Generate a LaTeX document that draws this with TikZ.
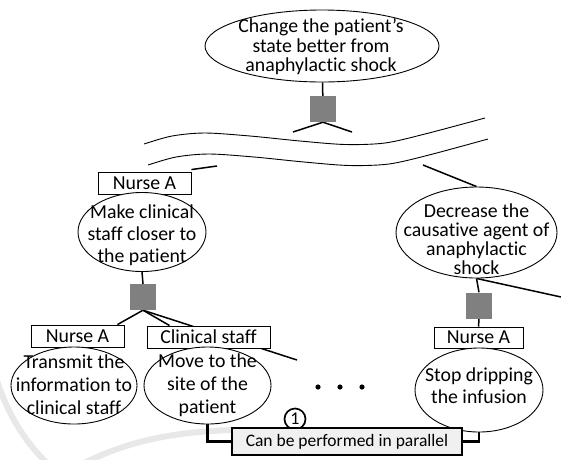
\documentclass[tikz,border=0pt]{standalone}
\usepackage{fontspec}
\setmainfont[Ligatures={TeX,NoCommon}]{Carlito}
\usetikzlibrary{shapes.geometric,calc}
\pgfdeclarelayer{marks}
\pgfdeclarelayer{links}
\pgfsetlayers{marks,links,main}

\begin{document}
\begin{tikzpicture}[x=1pt,y=-1pt,
  goalshape/.style={draw, ellipse, line width=0.9pt, fill=white, inner sep=0pt},
  goaltext/.style={align=center, inner sep=0pt, font=\fontsize{19.8}{#1}\selectfont},
  actor/.style={draw, rectangle, line width=0.9pt, fill=white, inner sep=0pt,
                minimum height=22pt, font=\fontsize{19.8}{22}\selectfont},
  andbox/.style={rectangle, fill=black!50, minimum size=26pt, inner sep=0pt},
  link/.style={line width=1.5pt},
  thicklink/.style={line width=2.2pt},
  note/.style={draw, rectangle, line width=2.2pt, fill=black!6, inner sep=0pt,
               font=\fontsize{17.5}{19}\selectfont},
  num/.style={draw, circle, line width=1.7pt, fill=white, inner sep=0pt,
              minimum size=21pt, font=\fontsize{18}{19}\selectfont},
  wave/.style={line width=0.9pt},
  faint/.style={line width=6pt, black!9, line cap=round}
]
\useasboundingbox (0,0) rectangle (561,459);

% faint background strokes
\begin{pgfonlayer}{marks}
  \draw[faint] (-4,378) .. controls (8,415) and (25,442) .. (48,464);
  \draw[faint] (82,464) .. controls (130,440) and (175,432) .. (232,430);
\end{pgfonlayer}

% ---- goals ----
\node[goalshape, minimum width=234pt, minimum height=72pt] (goal) at (322,46) {};
\node[goaltext=19.5] (goal-t) at (321,47) {Change the patient’s\\state better from\\anaphylactic shock};

\node[andbox] (sqtop) at (323,109) {};

\node[actor, minimum width=93pt] (nurse1) at (144.5,183) {Nurse A};
\node[goalshape, minimum width=128pt, minimum height=79pt] (close) at (142,232) {};
\node[goaltext=22] (close-t) at (142,235) {Make clinical\\staff closer to\\the patient};

\node[goalshape, minimum width=161pt, minimum height=91pt] (reduce) at (476.5,232.5) {};
\node[goaltext=19] (reduce-t) at (476.5,239) {Decrease the\\causative agent of\\anaphylactic\\shock};

\node[andbox] (sqleft) at (143,297) {};
\node[andbox] (sqright) at (479,305.5) {};

\node[actor, minimum width=93pt] (nurse2) at (77.5,336) {Nurse A};
\node[actor, minimum width=123pt] (staff) at (208.5,337) {Clinical staff};
\node[actor, minimum width=89pt, minimum height=21pt] (nurse3) at (478.5,337.5) {Nurse A};

\node[goalshape, minimum width=126pt, minimum height=77pt] (inform) at (74,385.5) {};
\node[goaltext=23] (inform-t) at (74,385) {Transmit the\\information to\\clinical staff};

\node[goalshape, minimum width=127pt, minimum height=77pt] (move) at (207.5,385.5) {};
\node[goaltext=23] (move-t) at (207.5,385) {Move to the\\site of the\\patient};

\node[goalshape, minimum width=128pt, minimum height=84pt] (stop) at (479,390) {};
\node[goaltext=22] (stop-t) at (479,386) {Stop dripping\\the infusion};

% omitted siblings
\foreach \i/\x in {1/318,2/340,3/362}
  \fill (\x,387) circle[radius=2.6pt] coordinate (dot\i);

% parallel note
\node[num] (one) at (295,419) {1};
\node[note, minimum width=230pt, minimum height=27pt] (par) at (347,441.5) {Can be performed in parallel};

% free ends of the cut-off links
\coordinate (cutA) at (293,132);
\coordinate (cutB) at (352,132);
\coordinate (cutC) at (217,166);
\coordinate (cutD) at (423,165);
\coordinate (offR) at (561,297);
\coordinate (offS) at (297,360);

% ---- links ----
\begin{pgfonlayer}{links}
  \draw[link] (goal) -- (sqtop);
  \draw[link] (sqtop.south) -- (cutA);
  \draw[link] (sqtop.south) -- (cutB);
  \draw[link] (cutC) -- ([yshift=2pt]nurse1.north east);
  \draw[link] (cutD) -- (reduce.north);
  \draw[link] (close.south) -- (sqleft.north);
  \draw[link] (sqleft.south) -- ([xshift=-7pt]nurse2.north east);
  \draw[link] (sqleft.south) -- ([xshift=23pt]staff.north west);
  \draw[link] (sqleft.south) -- (offS);
  \draw[link] (reduce.south) -- (sqright.north);
  \draw[link] (reduce.south) -- (offR);
  \draw[link] (sqright.south) -- (nurse3.north);
  \draw[thicklink] (move.south) |- (par.west);
  \draw[thicklink] (stop.south) |- (par.east);
\end{pgfonlayer}

% ---- break band between the levels ----
\def\upperwave{(144,144) (172,136) (205,133) (250,136) (300,141) (345,144.5) (385,143) (425,134) (485,118)}
\def\lowerwave{(148,165) (176,157) (209,154) (254,157) (304,162) (349,165.5) (389,164) (429,155) (488,139)}
\fill[white] plot[smooth] coordinates {(144,144) (172,136) (205,133) (250,136) (300,141) (345,144.5) (385,143) (425,134) (485,118)}
  -- plot[smooth] coordinates {(488,139) (429,155) (389,164) (349,165.5) (304,162) (254,157) (209,154) (176,157) (148,165)} -- cycle;
\draw[wave] plot[smooth] coordinates \upperwave;
\draw[wave] plot[smooth] coordinates \lowerwave;
\end{tikzpicture}
\end{document}
